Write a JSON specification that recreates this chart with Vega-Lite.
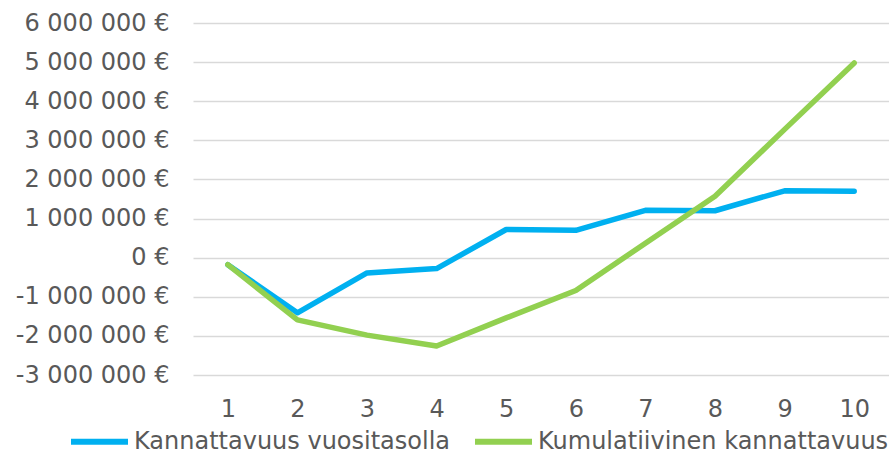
{
  "$schema": "https://vega.github.io/schema/vega-lite/v6.json",
  "width": 696,
  "height": 352,
  "autosize": "none",
  "padding": {"left": 193, "top": 23, "right": 0, "bottom": 79},
  "background": "white",
  "config": {
    "font": "DejaVu Sans",
    "view": {"stroke": null},
    "locale": {
      "number": {"decimal": ",", "thousands": " ", "grouping": [3], "currency": ["", " €"], "minus": "-"}
    }
  },
  "data": {
    "values": [
      {"x": 1, "series": "Kannattavuus vuositasolla", "value": -180000},
      {"x": 2, "series": "Kannattavuus vuositasolla", "value": -1410000},
      {"x": 3, "series": "Kannattavuus vuositasolla", "value": -390000},
      {"x": 4, "series": "Kannattavuus vuositasolla", "value": -280000},
      {"x": 5, "series": "Kannattavuus vuositasolla", "value": 720000},
      {"x": 6, "series": "Kannattavuus vuositasolla", "value": 700000},
      {"x": 7, "series": "Kannattavuus vuositasolla", "value": 1210000},
      {"x": 8, "series": "Kannattavuus vuositasolla", "value": 1200000},
      {"x": 9, "series": "Kannattavuus vuositasolla", "value": 1710000},
      {"x": 10, "series": "Kannattavuus vuositasolla", "value": 1700000},
      {"x": 1, "series": "Kumulatiivinen kannattavuus", "value": -180000},
      {"x": 2, "series": "Kumulatiivinen kannattavuus", "value": -1590000},
      {"x": 3, "series": "Kumulatiivinen kannattavuus", "value": -1980000},
      {"x": 4, "series": "Kumulatiivinen kannattavuus", "value": -2260000},
      {"x": 5, "series": "Kumulatiivinen kannattavuus", "value": -1540000},
      {"x": 6, "series": "Kumulatiivinen kannattavuus", "value": -840000},
      {"x": 7, "series": "Kumulatiivinen kannattavuus", "value": 370000},
      {"x": 8, "series": "Kumulatiivinen kannattavuus", "value": 1570000},
      {"x": 9, "series": "Kumulatiivinen kannattavuus", "value": 3280000},
      {"x": 10, "series": "Kumulatiivinen kannattavuus", "value": 4980000}
    ]
  },
  "mark": {"type": "line", "strokeWidth": 5.5, "strokeCap": "round", "strokeJoin": "round"},
  "encoding": {
    "x": {
      "field": "x",
      "type": "ordinal",
      "scale": {"type": "point", "padding": 0.5},
      "axis": {
        "title": null,
        "labelAngle": 0,
        "labelFontSize": 24,
        "labelColor": "#595959",
        "labelPadding": 22,
        "domain": false,
        "ticks": false,
        "grid": false
      }
    },
    "y": {
      "field": "value",
      "type": "quantitative",
      "scale": {"domain": [-3000000, 6000000], "nice": false, "zero": false},
      "axis": {
        "title": null,
        "values": [-3000000, -2000000, -1000000, 0, 1000000, 2000000, 3000000, 4000000, 5000000, 6000000],
        "format": "$,.0f",
        "labelFontSize": 24,
        "labelColor": "#595959",
        "labelPadding": 24,
        "domain": false,
        "ticks": false,
        "grid": true,
        "gridColor": "#d9d9d9",
        "gridWidth": 1.5
      }
    },
    "color": {
      "field": "series",
      "type": "nominal",
      "scale": {
        "domain": ["Kannattavuus vuositasolla", "Kumulatiivinen kannattavuus"],
        "range": ["#00b0f0", "#92d050"]
      },
      "legend": {
        "title": null,
        "orient": "none",
        "direction": "horizontal",
        "legendX": -125,
        "legendY": 387,
        "symbolType": "stroke",
        "symbolSize": 3249,
        "symbolStrokeWidth": 6,
        "labelFontSize": 24,
        "labelColor": "#595959",
        "labelLimit": 600,
        "labelOffset": 3,
        "columnPadding": 12
      }
    }
  }
}
